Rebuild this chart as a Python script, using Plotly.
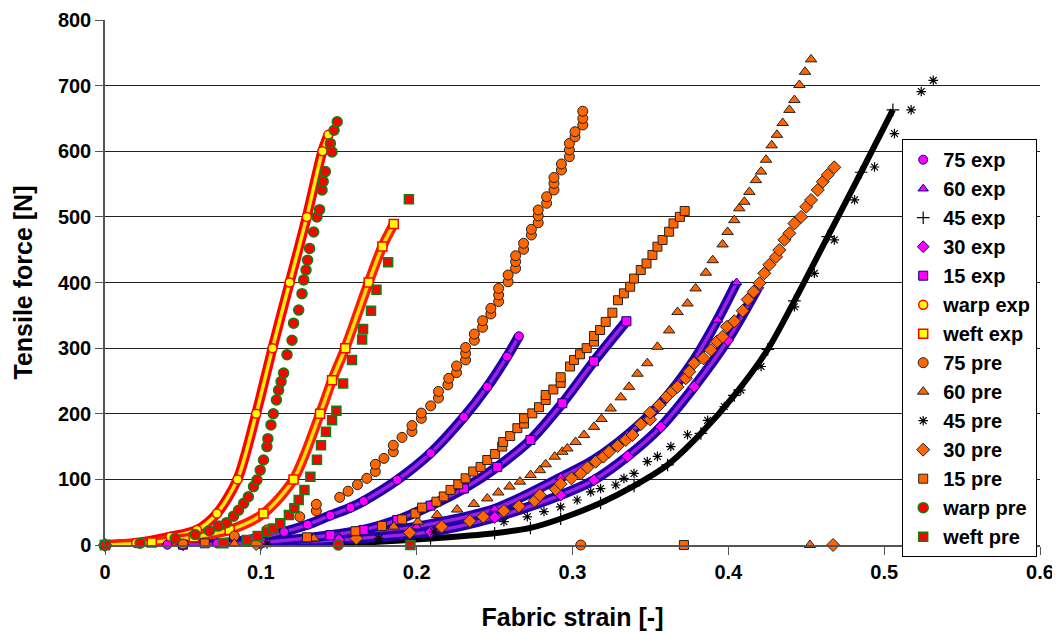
import plotly.graph_objects as go

# ---------------- data (strain [-], force [N]) ----------------
strain_75_exp = [0, 0.04, 0.072, 0.095, 0.115, 0.13, 0.1446, 0.1575, 0.166, 0.1875, 0.2089, 0.2303, 0.2453, 0.258, 0.2656]
force_75_exp = [0, 0.5, 2.5, 9, 20, 31, 45, 57, 67, 99, 140, 195, 241, 287, 318]

strain_60_exp = [0, 0.05, 0.1, 0.15, 0.2, 0.25, 0.2924, 0.3138, 0.3353, 0.3567, 0.378, 0.393, 0.4053]
force_60_exp = [0, 0.5, 3, 13, 28, 55, 103, 130, 168, 216, 282, 343, 400]

strain_45_exp = [0, 0.1, 0.15, 0.2089, 0.25, 0.273, 0.2924, 0.318, 0.3395, 0.361, 0.3824, 0.4038, 0.4253, 0.4424, 0.4638, 0.4852, 0.5056]
force_45_exp = [0, 0.5, 2, 10, 18, 26, 40, 64, 90, 122, 170, 228, 298, 372, 470, 568, 663]

strain_30_exp = [0, 0.05, 0.1, 0.15, 0.2089, 0.25, 0.2924, 0.3138, 0.3353, 0.3567, 0.378, 0.3995, 0.419]
force_30_exp = [0, 0.3, 2, 8, 20, 42, 76, 99, 135, 180, 241, 312, 392]

strain_15_exp = [0, 0.05, 0.1, 0.1446, 0.166, 0.1875, 0.2089, 0.2303, 0.2517, 0.273, 0.2935, 0.3138, 0.3346]
force_15_exp = [0, 0.5, 4, 15, 23, 38, 60, 86, 119, 160, 216, 280, 341]

strain_warp_exp = [0, 0.02, 0.042, 0.059, 0.0718, 0.085, 0.097, 0.1075, 0.1185, 0.1295, 0.1395, 0.1433]
force_warp_exp = [0, 3, 12.7, 23, 48, 100, 200, 300, 400, 500, 600, 625]

strain_weft_exp = [0, 0.03, 0.057, 0.08, 0.1017, 0.121, 0.138, 0.1457, 0.1542, 0.1692, 0.178, 0.1853]
force_weft_exp = [0, 4, 12, 23, 48, 100, 200, 251, 300, 400, 455, 489]

strain_75_pre = [0, 0.05, 0.083, 0.104, 0.125, 0.1356, 0.1356, 0.1506, 0.156, 0.162, 0.168, 0.1735, 0.1735, 0.179,
                 0.185, 0.185, 0.1906, 0.197, 0.197, 0.203, 0.203, 0.209, 0.214, 0.214, 0.22, 0.2206, 0.2256, 0.2256,
                 0.2314, 0.2314, 0.2314, 0.237, 0.237, 0.2423, 0.2423, 0.2476, 0.2476, 0.2526, 0.2526, 0.2526,
                 0.2587, 0.2587, 0.2635, 0.2635, 0.2635, 0.2686, 0.2686, 0.2736, 0.2736, 0.278, 0.278, 0.278,
                 0.2834, 0.2834, 0.2881, 0.2881, 0.2881, 0.2929, 0.2929, 0.298, 0.298, 0.298, 0.3016, 0.3016,
                 0.3066, 0.3066, 0.3066, 0.3053]
force_75_pre = [0, 1.5, 13.7, 23, 43, 52, 62, 72.6, 82, 92, 101.6, 112, 123, 132,
                142, 152, 164, 173, 182, 193, 201, 212, 224, 234, 244, 254, 262.6, 272.8,
                282, 292, 301, 312, 321.5, 331.7, 341.8, 352, 360.6, 371, 381, 391,
                401, 411.4, 421.6, 431.7, 440.8, 450.6, 459.7, 472.4, 481, 491, 501.5, 510.5,
                520.7, 530.7, 541, 551, 560, 571.4, 580.6, 591.7, 602, 612, 622, 629.8,
                640, 650, 661, 0]

strain_60_pre = [0, 0.083, 0.134, 0.1853, 0.2008, 0.2131, 0.226, 0.2367, 0.2453, 0.2524, 0.2596, 0.2663, 0.2731,
                 0.2791, 0.2828, 0.2886, 0.2935, 0.2967, 0.302, 0.3074, 0.3138, 0.3186, 0.3245, 0.331, 0.3363,
                 0.3417, 0.348, 0.3545, 0.362, 0.3674, 0.3738, 0.379, 0.3856, 0.39, 0.3963, 0.3995, 0.4038,
                 0.407, 0.4103, 0.4135, 0.4177, 0.421, 0.4242, 0.4278, 0.4312, 0.4349, 0.4392, 0.4424, 0.4456,
                 0.4492, 0.4531, 0.4524]
force_60_pre = [0, 2, 10, 28, 35.5, 45.7, 54, 62.5, 71, 80, 89, 96.5, 106.7,
                114, 123, 134.6, 142, 147, 157, 167.6, 180, 192, 208, 225, 241,
                261, 277, 302, 327, 355, 368, 391, 415, 434, 458, 477, 495,
                513, 523, 538, 556, 569, 587, 609, 625, 643, 663, 678, 701,
                721, 740, 0]

strain_45_pre = [0, 0.104, 0.1757, 0.211, 0.256, 0.271, 0.2817, 0.2924, 0.303, 0.3117, 0.318, 0.3278, 0.333,
                 0.3395, 0.348, 0.3545, 0.3631, 0.3738, 0.3867, 0.3974, 0.408, 0.421, 0.4424, 0.4552, 0.468,
                 0.481, 0.4938, 0.5066, 0.5173, 0.5238, 0.5315, 0.5302]
force_45_pre = [0, 1.5, 10, 20, 35.5, 43, 51, 58, 68.6, 81, 86, 91.4, 101.6,
                109, 127, 135, 150, 168, 190, 211, 236, 272, 363, 414, 465,
                526, 576, 627, 663, 691, 708, 0]

strain_30_pre = [0, 0.097, 0.1613, 0.1956, 0.216, 0.2341, 0.2427, 0.256, 0.2656, 0.2757, 0.2791, 0.2892, 0.2924,
                 0.2993, 0.3053, 0.3096, 0.3149, 0.3198, 0.3235, 0.329, 0.3342, 0.3385, 0.3438, 0.3498, 0.3498,
                 0.3556, 0.3605, 0.3642, 0.3674, 0.3727, 0.3749, 0.378, 0.384, 0.3888, 0.3927, 0.3963, 0.3991,
                 0.4038, 0.4092, 0.4124, 0.4162, 0.42, 0.4231, 0.4263, 0.4306, 0.4327, 0.436, 0.4392, 0.4424,
                 0.4467, 0.45, 0.4531, 0.4574, 0.4606, 0.4638, 0.468, 0.4672]
force_30_pre = [0, 1.5, 10, 18.8, 28, 36.6, 43, 52, 59, 67.5, 76, 85, 93,
                101.6, 109, 118, 127, 134.6, 142, 151, 160, 167.6, 184, 191.5, 201.6,
                213, 226, 234.7, 241, 254, 264, 277, 284.5, 297, 310, 317.5, 332.6,
                341, 357, 374, 386, 399, 414, 427, 439, 449.5, 465, 475, 490,
                500, 515.5, 525.7, 541, 553.6, 564, 575.5, 0]

strain_15_pre = [0, 0.064, 0.1296, 0.1607, 0.1778, 0.1907, 0.1992, 0.2035, 0.2127, 0.2174, 0.2217, 0.2267, 0.2314,
                 0.2363, 0.241, 0.2453, 0.2502, 0.2549, 0.2555, 0.26, 0.2646, 0.2689, 0.2689, 0.2742, 0.2785,
                 0.2828, 0.2828, 0.2877, 0.2924, 0.2924, 0.2984, 0.301, 0.3048, 0.3091, 0.3138, 0.3138, 0.3177,
                 0.3213, 0.3256, 0.3292, 0.333, 0.337, 0.3395, 0.3438, 0.3475, 0.3513, 0.3545, 0.3578, 0.362,
                 0.3648, 0.3689, 0.372, 0.3715]
force_15_pre = [0, 2.5, 11.7, 21, 29, 39, 48, 57, 66, 74, 84, 92.5, 101.6,
                112, 119, 129.5, 138.7, 150, 157, 166, 178, 185, 193, 200.6, 210,
                221, 228.6, 237, 247, 255.6, 272, 282, 290.6, 300, 310, 318.5, 327.6,
                340, 354, 373, 383.5, 393.6, 406, 419, 429, 442, 454.6, 464.8, 477.4,
                490, 500, 509, 0]

strain_warp_pre = [0, 0.0225, 0.045, 0.0578, 0.067, 0.0728, 0.078, 0.0825, 0.0857, 0.089, 0.092, 0.0953, 0.0975,
                   0.0996, 0.1017, 0.1039, 0.1045, 0.1065, 0.108, 0.11, 0.1114, 0.113, 0.1146, 0.1168, 0.12,
                   0.121, 0.1243, 0.1264, 0.1275, 0.129, 0.130, 0.1313, 0.1339, 0.136, 0.1377, 0.1393, 0.14,
                   0.1414, 0.1446, 0.1457, 0.147, 0.149, 0.1497]
force_warp_pre = [0, 2.6, 10, 16, 21.8, 29, 34, 44, 53, 63.5, 73.6, 89, 99,
                  114, 129.5, 150, 162, 183, 200, 221, 236, 249, 262, 290, 312,
                  338, 358, 383, 404, 419, 434, 452, 477, 500, 511, 541, 554,
                  569, 612, 599, 632, 645, 0]

strain_weft_pre = [0, 0.076, 0.091, 0.098, 0.1039, 0.108, 0.1125, 0.118, 0.1215, 0.1243, 0.128, 0.1318, 0.136,
                   0.1386, 0.1418, 0.1457, 0.1485, 0.1528, 0.1585, 0.165, 0.1656, 0.1707, 0.1742, 0.1817, 0.195,
                   0.196]
force_weft_pre = [0, 2.5, 7.6, 13.7, 20, 25, 33, 45.7, 56, 68.6, 84, 104, 130,
                  152, 172.6, 190, 204.6, 246, 282, 313, 329, 357, 389, 431, 527,
                  0]

x_ticks = [0, 0.1, 0.2, 0.3, 0.4, 0.5, 0.6]
y_ticks = [0, 100, 200, 300, 400, 500, 600, 700, 800]

# ---------------- styles ----------------
ORANGE = "#FF6600"
MAG = "#FF00FF"
NAVY = "#000080"
BAND_BLUE = ("#2000A8", "#A020E0")

exp_series = [
    ("75 exp", strain_75_exp, force_75_exp, dict(symbol="circle", color=MAG, line=dict(color=NAVY, width=1)), BAND_BLUE),
    ("60 exp", strain_60_exp, force_60_exp, dict(symbol="triangle-up", color=MAG, line=dict(color=NAVY, width=1)), BAND_BLUE),
    ("45 exp", strain_45_exp, force_45_exp, dict(symbol="cross-thin", color="black", line=dict(color="black", width=1.2)), ("#000000", None)),
    ("30 exp", strain_30_exp, force_30_exp, dict(symbol="diamond", color=MAG, line=dict(color=NAVY, width=1)), BAND_BLUE),
    ("15 exp", strain_15_exp, force_15_exp, dict(symbol="square", color=MAG, line=dict(color=NAVY, width=1)), BAND_BLUE),
    ("warp exp", strain_warp_exp, force_warp_exp, dict(symbol="circle", color="#FFFF00", line=dict(color="#FF0000", width=1.5)), ("#FF0000", "#FFEE00")),
    ("weft exp", strain_weft_exp, force_weft_exp, dict(symbol="square", color="#FFFF00", line=dict(color="#FF0000", width=1.5)), ("#FF1A00", "#FFE000")),
]

pre_series = [
    ("75 pre", strain_75_pre, force_75_pre, dict(symbol="circle", color=ORANGE, line=dict(color="#222222", width=1))),
    ("60 pre", strain_60_pre, force_60_pre, dict(symbol="triangle-up", color=ORANGE, line=dict(color="#222222", width=1))),
    ("45 pre", strain_45_pre, force_45_pre, dict(symbol="asterisk-open", color="black", line=dict(color="black", width=1.2))),
    ("30 pre", strain_30_pre, force_30_pre, dict(symbol="diamond", color=ORANGE, line=dict(color="#222222", width=1))),
    ("15 pre", strain_15_pre, force_15_pre, dict(symbol="square", color=ORANGE, line=dict(color="#222222", width=1))),
    ("warp pre", strain_warp_pre, force_warp_pre, dict(symbol="circle", color="#FF0000", line=dict(color="#108010", width=1.5))),
    ("weft pre", strain_weft_pre, force_weft_pre, dict(symbol="square", color="#FF0000", line=dict(color="#108010", width=1.5))),
]

fig = go.Figure()

# dense experimental series rendered as a band of overlapping markers
for name, xs, ys, mk, (outer, inner) in exp_series:
    fig.add_trace(go.Scatter(x=xs, y=ys, mode="lines", showlegend=False, hoverinfo="skip",
                             line=dict(color=outer, width=6 if name == "45 exp" else 10, shape="spline", smoothing=0.8),
                             legendgroup=name, cliponaxis=False))
    if inner:
        fig.add_trace(go.Scatter(x=xs, y=ys, mode="lines", showlegend=False, hoverinfo="skip",
                                 line=dict(color=inner, width=3.5, shape="spline", smoothing=0.8),
                                 legendgroup=name, cliponaxis=False))

for name, xs, ys, mk, _ in exp_series:
    fig.add_trace(go.Scatter(x=xs, y=ys, mode="markers", name=name, legendgroup=name,
                             marker=dict(size=9, **mk), cliponaxis=False))

for name, xs, ys, mk in pre_series:
    size = 10 if mk["symbol"] in ("triangle-up", "diamond", "circle") else 9
    if mk["symbol"] == "asterisk-open":
        size = 8
    fig.add_trace(go.Scatter(x=xs, y=ys, mode="markers", name=name, legendgroup=name,
                             marker=dict(size=size, **mk), cliponaxis=False))

FONT = "Arial, Liberation Sans, sans-serif"

fig.update_layout(
    width=1060, height=634,
    margin=dict(l=97, r=28, t=12, b=97),
    paper_bgcolor="white", plot_bgcolor="white",
    font=dict(family=FONT, color="black", size=20, weight="bold"),
    legend=dict(
        x=0.997, xanchor="right", y=0.773, yanchor="top",
        bgcolor="white", bordercolor="black", borderwidth=1,
        font=dict(family=FONT, size=20, color="black", weight="bold"),
        traceorder="grouped", tracegroupgap=0,
        itemwidth=30,
    ),
    xaxis=dict(
        range=[0, 0.6], tickvals=x_ticks, ticktext=[f"{v:g}" for v in x_ticks],
        showgrid=False, zeroline=False, automargin=False,
        showline=True, linecolor="#555555", linewidth=1.5,
        ticks="outside", ticklen=8, tickcolor="#555555",
        tickfont=dict(size=20, family=FONT, weight="bold"),
        title=dict(text="Fabric strain [-]", font=dict(size=25, family=FONT, weight="bold"), standoff=27),
    ),
    yaxis=dict(
        range=[0, 800], tickvals=y_ticks,
        showgrid=True, gridcolor="#222222", gridwidth=1,
        zeroline=False, automargin=False,
        showline=True, linecolor="#555555", linewidth=1.5,
        ticks="outside", ticklen=8, tickcolor="#555555",
        tickfont=dict(size=20, family=FONT, weight="bold"),
        title=dict(text="Tensile force [N]", font=dict(size=25, family=FONT, weight="bold"), standoff=18),
    ),
)

fig.write_html("out.html")
